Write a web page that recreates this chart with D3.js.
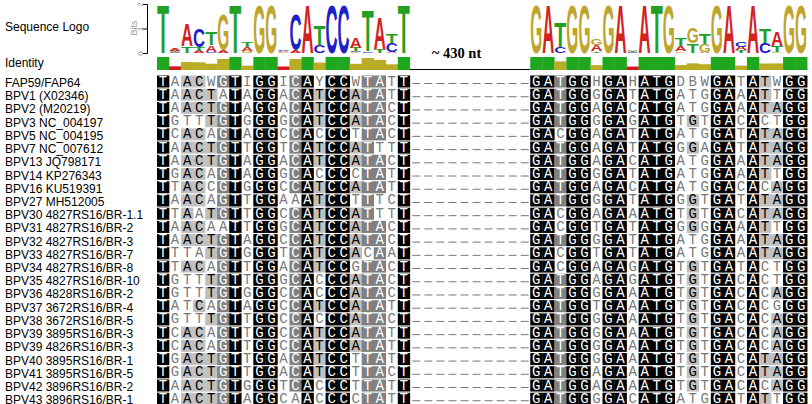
<!DOCTYPE html>
<html>
<head>
<meta charset="utf-8">
<script src="https://cdn.jsdelivr.net/npm/d3@7"></script>
<style>
  body { margin: 0; background: #fff; }
</style>
</head>
<body>
<div id="chart"></div>
<script>
// sequence names, top to bottom
var names = [
  "FAP59/FAP64", "BPV1 (X02346)", "BPV2 (M20219)", "BPV3 NC_004197", "BPV5 NC_004195",
  "BPV7 NC_007612", "BPV13 JQ798171", "BPV14 KP276343", "BPV16 KU519391", "BPV27 MH512005",
  "BPV30 4827RS16/BR-1.1", "BPV31 4827RS16/BR-2", "BPV32 4827RS16/BR-3", "BPV33 4827RS16/BR-7",
  "BPV34 4827RS16/BR-8", "BPV35 4827RS16/BR-10", "BPV36 4828RS16/BR-2", "BPV37 3672RS16/BR-4",
  "BPV38 3672RS16/BR-5", "BPV39 3895RS16/BR-3", "BPV39 4826RS16/BR-3", "BPV40 3895RS16/BR-1",
  "BPV41 3895RS16/BR-5", "BPV42 3896RS16/BR-2", "BPV43 3896RS16/BR-1"
];

// forward primer region
var leftSeqs = [
  "TAACWGTIGGICAYCCWTATT", "TAACTATAGGACATCCATATT", "TAACTGTAGGACATCCATACT",
  "TGTTTGTGGGGCATCCATACT", "TCACAGTAGGCCACCCTTACT", "TAACTGTTGGTCATCCATTTT",
  "TAACTGTAGGACATCCATACT", "TGACAGTAGGGCACCCCTATT", "TTACCGTGGGCCATCCATATT",
  "TAACAGTTGGAAATCCTTTCT", "TTAATGTTGGCCATCCATTTT", "TAACAATTGGGCATCCATACT",
  "TAACTGTAGGCCATCCATACT", "TTTATGTGGGTCATCCACAAT", "TTACAGTTGGACATCCGTACT",
  "TGTTTGTTGGGCACCCATACT", "TGTTTGTGGGCCACCCATACT", "TATCAGTAGGCCATCCATATT",
  "TGTTTGTTGGCCACCCATACT", "TCACAGTTGGCCATCCATATT", "TCACAGTTGGCCATCCATATT",
  "TGACTGTTGGACATCCTTATT", "TGACTGTTGGACATCCTTACT", "TAACTGTGGGTCACCCTTATT",
  "TAACTGTAGGCAACCCCTATT"
];

// reverse primer region
var rightSeqs = [
  "GATGGHGAHATGDBWGATATWGG", "GATGGGGATATGATGGAAATTGG", "GATGGAGACATGATGGAAATAGG",
  "GATGGGGAGATGTGTGACACTGG", "GACGGAGATATGATGGATATAGG", "GATGGAGATATGGGAGATATAGG",
  "GATGGAGACATGATGGAAATAGG", "GATGGGGATATGATGGAAATTGG", "GATGGAGACATGATGGACACAGG",
  "GATGGGGATATGGGTGATATAGG", "GACGGAGAAATGTGTGACATAGG", "GACGGTGATATGGGGGAAATTGG",
  "GATGGGGATATGATGGAAATAGG", "GACGGTGATATGATGGAAATAGG", "GACGGAGAGATGTGTGATACTGG",
  "GATGGAGAGATGTGTGACACTGG", "GATGGGGAAATGTGTGACACAGG", "GATGGTGAAATGTGTGACACGGG",
  "GATGGGGAAATGTGTGACACAGG", "GATGGGGAAATGTGTGACACAGG", "GATGGGGAAATGTGTGACACAGG",
  "GATGGGGAAATGTGTGACATAGG", "GATGGAGAAATGTGTGACATAGG", "GATGGAGAAATGTGTGACACAGG",
  "GATGGGGACATGATGGATATTGG"
];

var gapCols = 10;
var gapLabel = "~ 430 nt";
var bitTicks = [0, 1, 2];

var iupac = { A: "A", C: "C", G: "G", T: "T", W: "AT", Y: "CT", R: "AG", S: "CG", K: "GT",
              M: "AC", H: "ACT", D: "AGT", B: "CGT", V: "ACG", N: "ACGT", I: "ACGT" };
var baseColor = { A: "#d42222", C: "#1f1fc8", G: "#bfa52b", T: "#23a023" };

var svgW = 812, svgH = 404;
var colW = 12.04, x0 = 157;
var rowTop = 75.5, rowStep = 13.17;

var svg = d3.select("#chart").append("svg")
    .attr("width", svgW).attr("height", svgH)
    .style("font-family", "'Liberation Sans', Arial, sans-serif");

var rows = names.map(function(n, i) {
    return { name: n, seq: leftSeqs[i] + "-".repeat(gapCols) + rightSeqs[i] };
});
var nCols = rows[0].seq.length;

var x = d3.scaleBand().domain(d3.range(nCols)).range([x0, x0 + nCols * colW]);
var y = d3.scaleBand().domain(d3.range(rows.length))
    .range([rowTop, rowTop + rows.length * rowStep]).paddingInner(0.09);
var bits = d3.scaleLinear().domain([0, 2]).range([53, 4]);

// per-column statistics
var cols = d3.range(nCols).map(function(c) {
    var res = rows.map(r => r.seq[c]);
    if (res.every(b => b === "-")) return { gap: true };
    var plain = res.filter(b => "ACGT".includes(b));
    var n = plain.length;
    var counts = { A: 0, C: 0, G: 0, T: 0 };
    plain.forEach(b => counts[b]++);
    var same = 0;
    "ACGT".split("").forEach(b => same += counts[b] * (counts[b] - 1) / 2);
    var identity = same / (n * (n - 1) / 2);
    var H = 0;
    "ACGT".split("").forEach(function(b) {
        var p = counts[b] / n;
        if (p > 0) H -= p * Math.log2(p);
    });
    var ic = 2 - H;
    var stack = "ACGT".split("").map(b => ({ base: b, h: counts[b] / n * ic }))
        .filter(d => d.h > 0).sort((a, b) => a.h - b.h);
    var match = {};
    "ACGT".split("").forEach(function(b) {
        match[b] = res.filter(r => (iupac[r] || "").includes(b)).length / res.length;
    });
    return { gap: false, identity: identity, stack: stack, match: match };
});

// left labels
svg.append("text").attr("x", 5).attr("y", 31).attr("font-size", 12).text("Sequence Logo");
svg.append("text").attr("x", 5).attr("y", 67).attr("font-size", 12).text("Identity");

// bits axis
var axisG = svg.append("g").attr("transform", "translate(147,0)")
    .call(d3.axisLeft(bits).tickValues(bitTicks).tickSize(4).tickFormat(d3.format("d")));
axisG.select(".domain").attr("stroke", "#000");
axisG.selectAll(".tick line").attr("stroke", "#000");
axisG.selectAll(".tick text")
    .attr("transform", "rotate(-90)")
    .attr("x", 0).attr("y", -4.5).attr("dy", 0)
    .attr("text-anchor", "middle")
    .attr("font-size", 8).attr("fill", "#888")
    .style("font-family", "'Liberation Sans', Arial, sans-serif");
svg.append("text")
    .attr("transform", "translate(136.5,28) rotate(-90)")
    .attr("text-anchor", "middle").attr("font-size", 9).attr("fill", "#999")
    .text("Bits");

// measure logo glyph widths
var probe = svg.append("text").attr("font-size", 100).attr("font-weight", "bold");
var advance = {};
"ACGT".split("").forEach(function(b) {
    probe.text(b);
    advance[b] = probe.node().getComputedTextLength();
});
probe.remove();
var capH = 71.6;

// sequence logo
var logoG = svg.append("g");
cols.forEach(function(col, c) {
    if (col.gap) return;
    var base = bits(0);
    col.stack.forEach(function(d) {
        var hPx = bits(0) - bits(d.h);
        if (hPx < 0.3) { base -= hPx; return; }
        logoG.append("text")
            .attr("transform", "translate(" + x(c) + "," + base + ") scale(" +
                  (x.bandwidth() / advance[d.base]) + "," + (hPx / capH) + ")")
            .attr("font-size", 100).attr("font-weight", "bold")
            .attr("fill", baseColor[d.base])
            .text(d.base);
        base -= hPx;
    });
});

// identity bars
var idTop = 57, idBottom = 70;
var idCols = cols.map((d, i) => Object.assign({ c: i }, d)).filter(d => !d.gap);
svg.append("g").selectAll("rect").data(idCols).enter().append("rect")
    .attr("x", d => x(d.c))
    .attr("width", x.bandwidth() + 0.3)
    .attr("y", d => idBottom - (idBottom - idTop) * d.identity)
    .attr("height", d => (idBottom - idTop) * d.identity)
    .attr("fill", d => d.identity >= 0.999 ? "#1fa81f" : (d.identity >= 0.3 ? "#b9ad27" : "#d41a1a"));

// gap line and label
var gapIdx = cols.map((d, i) => d.gap ? i : -1).filter(i => i >= 0);
var gx0 = x(gapIdx[0]), gx1 = x(gapIdx[gapIdx.length - 1]) + x.bandwidth();
svg.append("line").attr("x1", gx0).attr("x2", gx1).attr("y1", idBottom - 0.5).attr("y2", idBottom - 0.5)
    .attr("stroke", "#000").attr("stroke-width", 1);
svg.append("text").attr("x", gx0 + 22).attr("y", 57.5)
    .attr("font-family", "'Liberation Serif', 'Times New Roman', serif")
    .attr("font-weight", "bold").attr("font-size", 14.5)
    .text(gapLabel);

// alignment
function shade(col, b) {
    if (!"ACGT".includes(b)) return 0;
    var f = col.match[b];
    if (f >= 0.9999) return 3;
    if (f >= 0.8) return 2;
    if (f >= 0.6) return 1;
    return 0;
}
var bgFill = ["#ffffff", "#c0c0c0", "#808080", "#000000"];
var fgFill = ["#7a7a7a", "#000000", "#ffffff", "#ffffff"];

var cells = [];
rows.forEach(function(r, i) {
    r.seq.split("").forEach(function(b, c) {
        cells.push({ r: i, c: c, b: b, s: cols[c].gap ? -1 : shade(cols[c], b) });
    });
});

var alnG = svg.append("g");
alnG.selectAll("rect").data(cells.filter(d => d.s > 0)).enter().append("rect")
    .attr("x", d => x(d.c)).attr("y", d => y(d.r))
    .attr("width", x.bandwidth() + 0.3).attr("height", y.bandwidth())
    .attr("fill", d => bgFill[d.s]);

alnG.selectAll("text").data(cells.filter(d => d.s >= 0)).enter().append("text")
    .attr("x", d => x(d.c) + x.bandwidth() / 2)
    .attr("y", d => y(d.r) + 10)
    .attr("text-anchor", "middle")
    .attr("font-family", "'Liberation Mono', 'Courier New', monospace")
    .attr("font-size", 14)
    .attr("fill", d => fgFill[d.s])
    .text(d => d.b);

alnG.selectAll("line").data(cells.filter(d => d.s < 0)).enter().append("line")
    .attr("x1", d => x(d.c) + 2.5).attr("x2", d => x(d.c) + 10.5)
    .attr("y1", d => y(d.r) + 8).attr("y2", d => y(d.r) + 8)
    .attr("stroke", "#777").attr("stroke-width", 1);

// sequence names
svg.append("g").selectAll("text").data(rows).enter().append("text")
    .attr("x", 5).attr("y", (d, i) => y(i) + 11.5)
    .attr("font-size", 12)
    .text(d => d.name);
</script>
</body>
</html>
